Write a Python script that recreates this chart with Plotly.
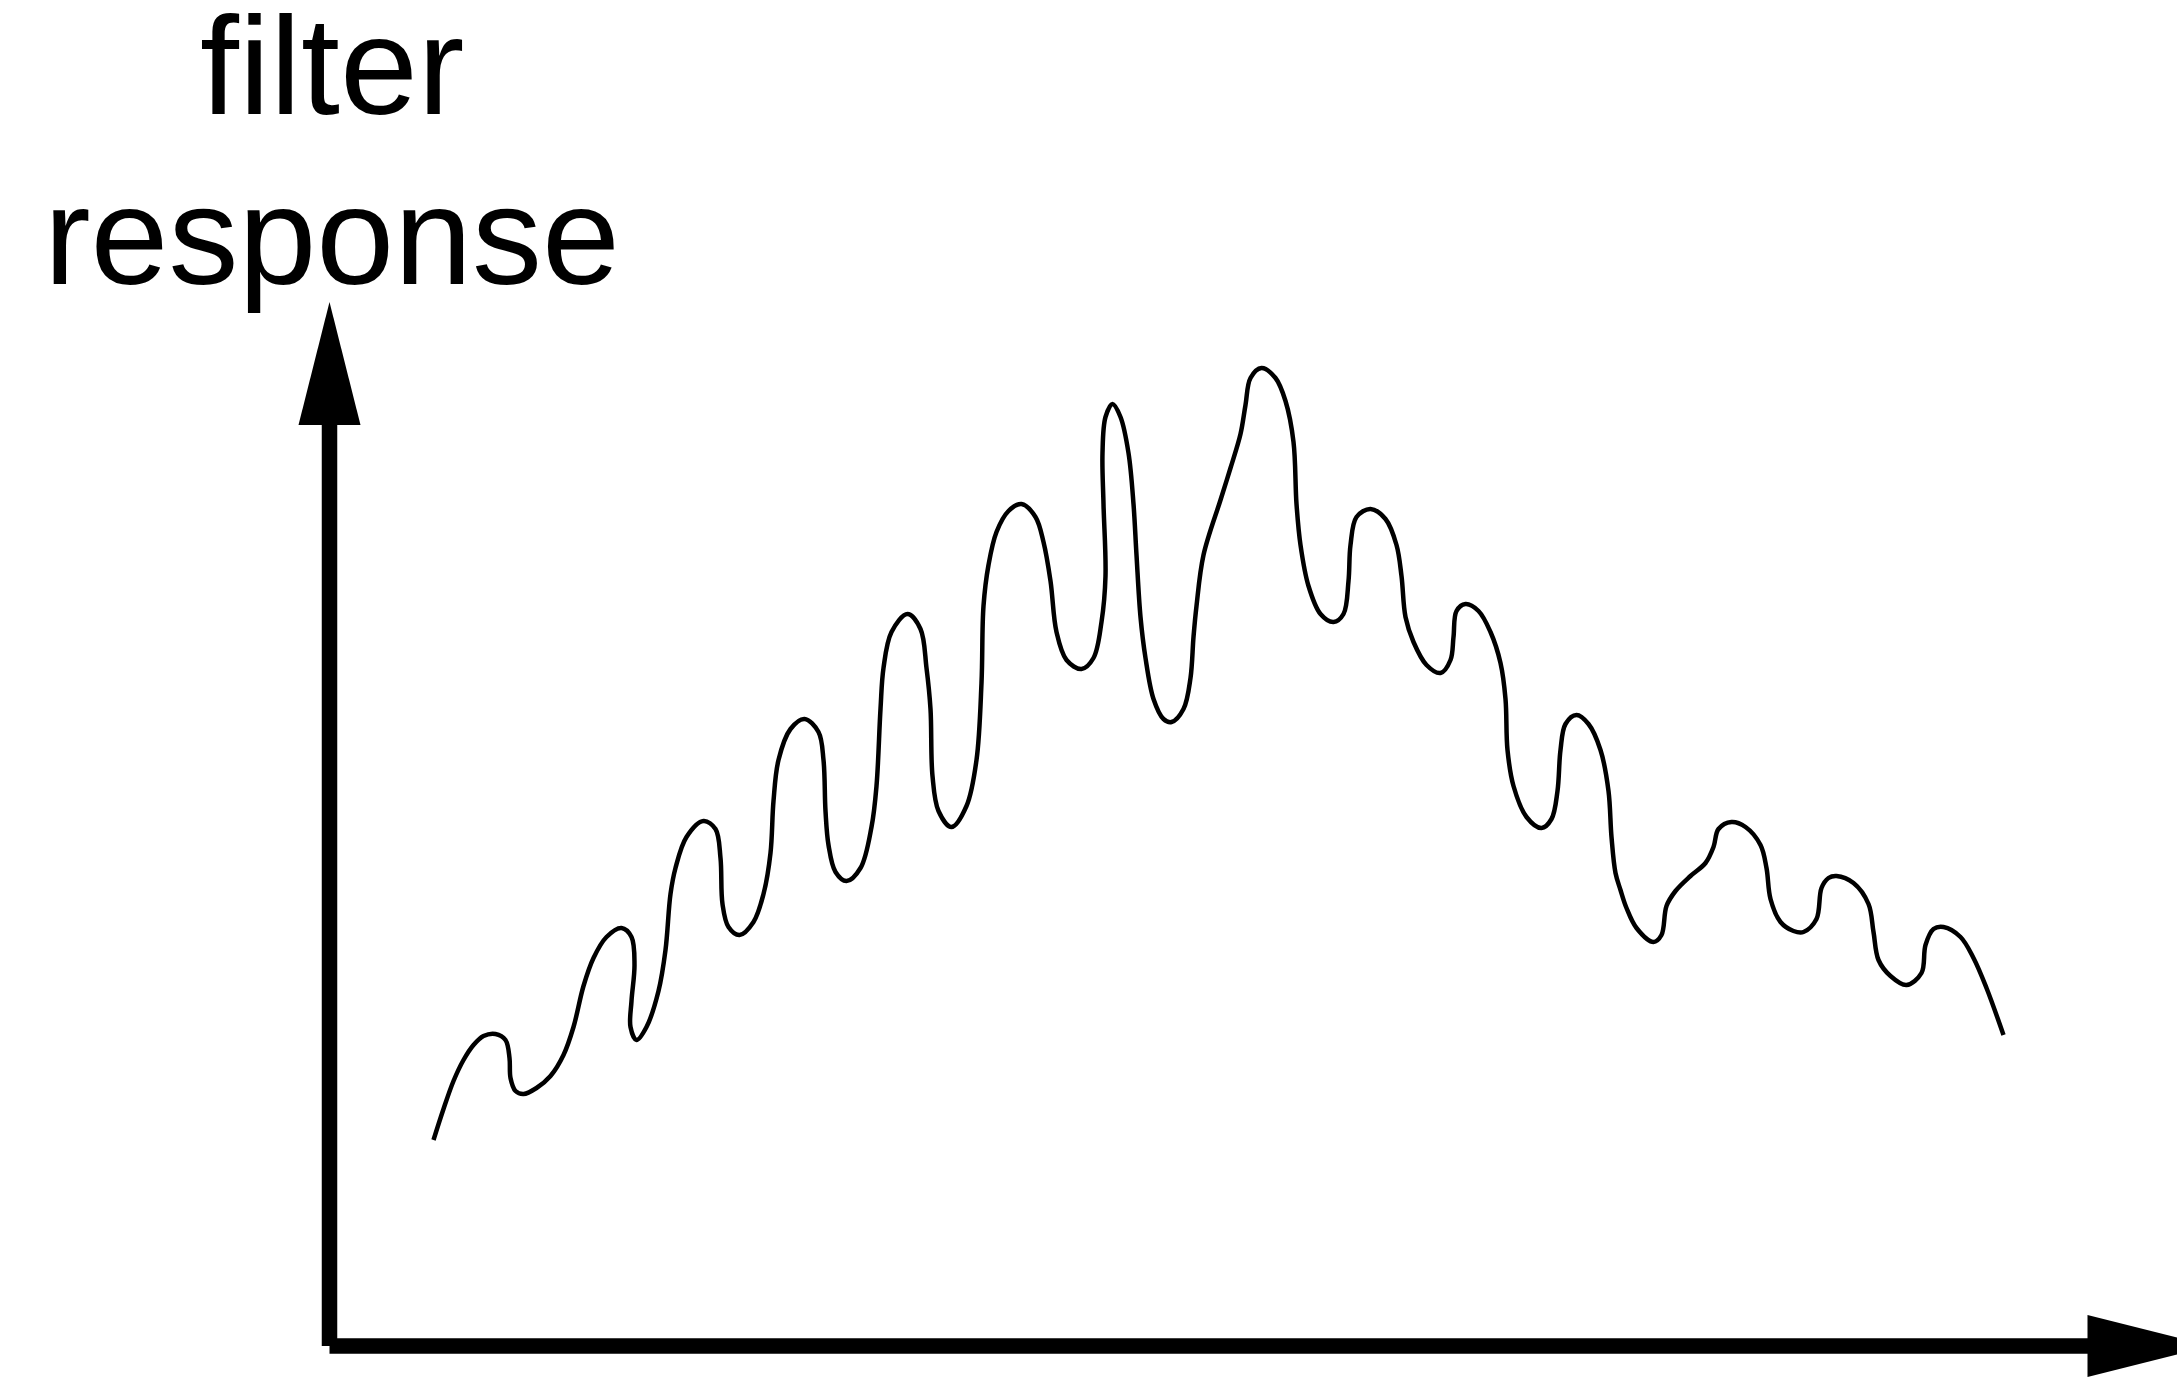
import plotly.graph_objects as go

# Frequency axis position and filter response (arbitrary units) along the curve
freq = [1.04, 1.14, 1.24, 1.34, 1.44, 1.54, 1.66, 1.76, 1.80, 1.81, 1.86, 1.94, 2.07, 2.21, 2.34,
        2.44, 2.54, 2.64, 2.77, 2.92, 3.02, 3.05, 3.02, 3.01, 3.07, 3.17, 3.29, 3.36, 3.41, 3.46,
        3.57, 3.74, 3.86, 3.91, 3.93, 3.99, 4.10, 4.24, 4.34, 4.41, 4.44, 4.49, 4.61, 4.75, 4.89,
        4.94, 4.96, 4.99, 5.06, 5.17, 5.31, 5.42, 5.47, 5.51, 5.54, 5.62, 5.78, 5.91, 5.97, 6.01,
        6.03, 6.09, 6.22, 6.37, 6.47, 6.52, 6.54, 6.59, 6.67, 6.79, 6.92, 7.06, 7.14, 7.21, 7.27,
        7.37, 7.52, 7.64, 7.72, 7.76, 7.74, 7.73, 7.76, 7.83, 7.91, 7.99, 8.04, 8.07, 8.11, 8.16,
        8.24, 8.34, 8.42, 8.54, 8.61, 8.64, 8.67, 8.74, 8.91, 9.01, 9.11, 9.16, 9.21, 9.32, 9.46,
        9.56, 9.64, 9.67, 9.71, 9.79, 9.91, 10.04, 10.14, 10.19, 10.21, 10.27, 10.41, 10.56, 10.67,
        10.72, 10.76, 10.84, 10.97, 11.11, 11.21, 11.24, 11.27, 11.36, 11.49, 11.61, 11.71, 11.76,
        11.78, 11.84, 11.97, 12.12, 12.22, 12.28, 12.31, 12.36, 12.47, 12.59, 12.71, 12.79, 12.82,
        12.86, 12.91, 12.97, 13.07, 13.24, 13.32, 13.37, 13.46, 13.61, 13.76, 13.84, 13.89, 14.02,
        14.16, 14.31, 14.37, 14.41, 14.51, 14.64, 14.74, 14.87, 14.92, 14.99, 15.07, 15.24, 15.39,
        15.44, 15.49, 15.61, 15.77, 15.92, 15.96, 16.04, 16.14, 16.31, 16.44, 16.57, 16.74]

response = [2.06, 2.37, 2.65, 2.86, 3.01, 3.10, 3.12, 3.06, 2.88, 2.68, 2.55, 2.52, 2.58, 2.70, 2.91,
            3.19, 3.60, 3.88, 4.09, 4.18, 4.09, 3.81, 3.45, 3.19, 3.06, 3.19, 3.55, 3.96, 4.52, 4.78,
            5.09, 5.25, 5.17, 4.88, 4.42, 4.19, 4.11, 4.24, 4.52, 4.93, 5.45, 5.86, 6.17, 6.27, 6.14,
            5.86, 5.35, 5.01, 4.74, 4.65, 4.78, 5.19, 5.60, 6.37, 6.78, 7.14, 7.32, 7.17, 6.78, 6.37,
            5.70, 5.35, 5.19, 5.40, 5.86, 6.63, 7.40, 7.81, 8.14, 8.35, 8.42, 8.29, 8.04, 7.65, 7.14,
            6.86, 6.77, 6.88, 7.24, 7.70, 8.42, 8.93, 9.29, 9.42, 9.29, 8.93, 8.42, 7.91, 7.29, 6.88,
            6.47, 6.27, 6.24, 6.37, 6.68, 7.09, 7.40, 7.91, 8.46, 8.78, 9.12, 9.41, 9.68, 9.78, 9.68,
            9.45, 9.04, 8.42, 8.01, 7.60, 7.32, 7.24, 7.32, 7.65, 8.01, 8.29, 8.37, 8.27, 8.01,
            7.70, 7.29, 7.04, 6.81, 6.73, 6.86, 7.09, 7.35, 7.42, 7.35, 7.14, 6.83, 6.47,
            5.96, 5.60, 5.29, 5.18, 5.27, 5.55, 5.96, 6.22, 6.31, 6.22, 5.96, 5.55, 5.09,
            4.73, 4.56, 4.38, 4.18, 4.04, 4.11, 4.40, 4.55, 4.70, 4.83, 4.99, 5.17, 5.24,
            5.19, 5.01, 4.78, 4.47, 4.24, 4.15, 4.14, 4.27, 4.58, 4.68, 4.70, 4.63, 4.42,
            4.14, 3.86, 3.70, 3.61, 3.73, 4.01, 4.17, 4.19, 4.09, 3.88, 3.58, 3.11]

axis_label_lines = ["filter", "response"]

INK = "black"
AXIS_W = 15.5
HEAD_LEN = 1.23
HEAD_HALF = 0.31
Y_AXIS_TOP = 10.44
X_AXIS_END = 18.81

fig = go.Figure()

fig.add_trace(go.Scatter(
    x=freq, y=response, mode="lines",
    line=dict(color=INK, width=4.5, shape="spline", smoothing=1.0),
    hoverinfo="skip", showlegend=False,
))

# Axis shafts
fig.add_shape(type="line", x0=0, y0=0, x1=0, y1=Y_AXIS_TOP - HEAD_LEN + 0.02,
              line=dict(color=INK, width=AXIS_W))
fig.add_shape(type="line", x0=0, y0=0, x1=X_AXIS_END - HEAD_LEN + 0.02, y1=0,
              line=dict(color=INK, width=AXIS_W))

# Arrowheads
yb = Y_AXIS_TOP - HEAD_LEN
fig.add_shape(type="path",
              path=f"M {-HEAD_HALF},{yb} L 0,{Y_AXIS_TOP} L {HEAD_HALF},{yb} Z",
              fillcolor=INK, line=dict(width=0))
xb = X_AXIS_END - HEAD_LEN
fig.add_shape(type="path",
              path=f"M {xb},{-HEAD_HALF} L {X_AXIS_END},0 L {xb},{HEAD_HALF} Z",
              fillcolor=INK, line=dict(width=0))

# Axis label
label_font = dict(family="Liberation Sans, Arial, Helvetica, sans-serif", size=140, color=INK)
for txt, yy in zip(axis_label_lines, [12.81, 11.11]):
    fig.add_annotation(x=0.02, y=yy, text=txt, showarrow=False, xanchor="center",
                       yanchor="middle", font=label_font)

fig.update_xaxes(range=[-3.295, 18.475], visible=False, fixedrange=True)
fig.update_yaxes(range=[-0.32, 13.46], visible=False, fixedrange=True)
fig.update_layout(
    width=2177, height=1378,
    margin=dict(l=0, r=0, t=0, b=0),
    paper_bgcolor="white", plot_bgcolor="white",
    showlegend=False,
)

fig.write_html("out.html")
